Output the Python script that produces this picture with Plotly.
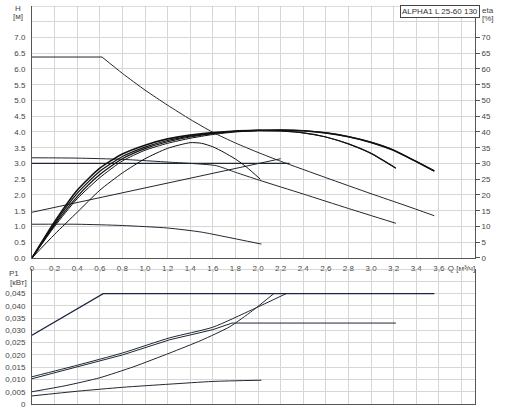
import plotly.graph_objects as go

# ---------------- data (Q in m3/h) ----------------
# Q-H curves, H in m
q_max_flat = [0, 0.62]
h_max_flat = [6.38, 6.38]
q_max = [0.62, 0.8, 1.0, 1.2, 1.4, 1.6, 1.8, 2.0, 2.2, 2.6, 3.0, 3.3, 3.56]
h_max = [6.38, 5.86, 5.33, 4.85, 4.4, 3.99, 3.65, 3.35, 3.07, 2.55, 2.04, 1.67, 1.34]

q_speed = [0, 0.4, 0.8, 1.22, 1.45, 1.63, 1.8, 2.01, 2.4, 2.8, 3.22]
h_speed = [3.18, 3.17, 3.13, 3.04, 2.99, 2.93, 2.72, 2.47, 2.03, 1.57, 1.1]

q_cp = [0, 2.28]
h_cp = [3.0, 3.0]

q_pp = [0, 2.2]
h_pp = [1.45, 3.15]

q_low = [0, 0.4, 0.8, 1.2, 1.5, 1.7, 2.03]
h_low = [1.07, 1.07, 1.03, 0.95, 0.82, 0.68, 0.44]

# efficiency curves, eta in %
q_eta1 = [0, 0.2, 0.4, 0.6, 0.8, 1.0, 1.2, 1.4, 1.5, 1.6, 1.7, 1.8, 1.9, 2.02]
eta1 = [0, 7.5, 14.5, 21.5, 27, 31.5, 34.8, 36.6, 36.4, 35.3, 33.5, 31.4, 28.8, 25]

q_eta_long = [0, 0.2, 0.4, 0.6, 0.8, 1.0, 1.2, 1.4, 1.6, 1.8, 2.0, 2.2, 2.4, 2.6, 2.8, 3.0, 3.2, 3.4, 3.56]
eta2 = [0, 11.5, 21.5, 28.5, 33, 35.8, 37.8, 39, 39.8, 40.3, 40.5, 40.6, 40.4, 39.7, 38.5, 36.7, 34.2, 30.6, 27.6]
eta3 = [0, 11, 20.5, 27.5, 32.2, 35.2, 37.3, 38.7, 39.6, 40.2, 40.5, 40.6, 40.4, 39.7, 38.5, 36.7, 34.2, 30.6, 27.6]

q_eta_short = [0, 0.2, 0.4, 0.6, 0.8, 1.0, 1.2, 1.4, 1.6, 1.8, 2.0, 2.2, 2.4, 2.6, 2.8, 3.0, 3.22]
eta4 = [0, 10.5, 19.5, 26.5, 31.5, 34.7, 36.9, 38.4, 39.5, 40.2, 40.5, 40.3, 39.7, 38.4, 36.2, 33.2, 28.5]
eta5 = [0, 10, 18.8, 25.5, 30.8, 34.2, 36.4, 38, 39.2, 40, 40.4, 40.3, 39.7, 38.4, 36.2, 33.2, 28.5]

# power curves, P1 in kW
q_p_max = [0, 0.63, 3.56]
p_max = [0.028, 0.045, 0.045]

q_p_up = [0, 0.4, 0.8, 1.22, 1.6, 1.95, 2.25]
p_up = [0.0111, 0.0158, 0.0208, 0.027, 0.0313, 0.0385, 0.045]

q_p_mid = [0, 0.4, 0.8, 1.22, 1.6, 1.77, 3.22]
p_mid = [0.0103, 0.015, 0.02, 0.0262, 0.0303, 0.033, 0.033]

q_p_steep = [0, 0.3, 0.6, 0.9, 1.22, 1.5, 1.75, 1.95, 2.14]
p_steep = [0.005, 0.0075, 0.0107, 0.0152, 0.0208, 0.026, 0.0315, 0.038, 0.045]

q_p_low = [0, 0.4, 0.8, 1.22, 1.6, 2.03]
p_low = [0.0033, 0.0052, 0.0068, 0.0081, 0.0092, 0.0097]

# axis ticks
q_tickvals = [round(0.2 * i, 1) for i in range(20)]
q_ticktext = [("0" if v == 0 else f"{v:.1f}".replace(".", ",")) for v in q_tickvals[:19]] + ["Q [м³/ч]"]
h_tickvals = [0.5 * i for i in range(16)]
h_ticktext = [f"{v:.1f}" for v in h_tickvals[:15]] + [""]
eta_tickvals = list(range(0, 75, 5))
p_tickvals = [0.005 * i for i in range(11)]
p_ticktext = ["0"] + [f"{v:.3f}".replace(".", ",") for v in p_tickvals[1:10]] + [""]

title_text = "ALPHA1 L 25-60 130"

# ---------------- figure ----------------
LINE = "#1f2733"
THICK = "#111111"
GRID = "#d6d6d6"
AX = "#555555"
FONT = dict(family="Liberation Sans, Arial, sans-serif", size=8, color="#444444")

fig = go.Figure()

def add(x, y, yaxis, xaxis="x", width=1.0, color=LINE, shape="linear"):
    fig.add_trace(go.Scatter(x=x, y=y, mode="lines", xaxis=xaxis, yaxis=yaxis,
                             line=dict(color=color, width=width, shape=shape, smoothing=0.6),
                             hoverinfo="skip", showlegend=False))

add(q_max_flat, h_max_flat, "y", width=1.0)
add(q_max, h_max, "y", width=1.0, shape="spline")
add(q_speed, h_speed, "y", width=1.0, shape="spline")
add(q_cp, h_cp, "y", width=1.2)
add(q_pp, h_pp, "y", width=1.0)
add(q_low, h_low, "y", width=1.0, shape="spline")

add(q_eta1, eta1, "y3", width=1.0, color=THICK, shape="spline")
add(q_eta_long, eta2, "y3", width=1.6, color=THICK, shape="spline")
add(q_eta_long, eta3, "y3", width=1.2, color=THICK, shape="spline")
add(q_eta_short, eta4, "y3", width=1.2, color=THICK, shape="spline")
add(q_eta_short, eta5, "y3", width=1.0, color=THICK, shape="spline")

add(q_p_max, p_max, "y2", "x2", width=1.2, color="#1b2540")
add(q_p_up, p_up, "y2", "x2", width=1.0, shape="spline")
add(q_p_mid, p_mid, "y2", "x2", width=1.0, shape="linear")
add(q_p_steep, p_steep, "y2", "x2", width=1.0, shape="spline")
add(q_p_low, p_low, "y2", "x2", width=1.0, shape="spline")

XR = [0, 3.92]
TOP_DOM = [0.367, 1.0]
BOT_DOM = [0.0, 0.339]

fig.update_layout(
    width=508, height=411,
    margin=dict(l=32, r=33, t=6, b=7),
    paper_bgcolor="white", plot_bgcolor="white",
    font=FONT,
    showlegend=False,
    xaxis=dict(domain=[0, 1], range=XR, anchor="y", tickvals=q_tickvals, ticktext=q_ticktext,
               showgrid=True, gridcolor=GRID, gridwidth=1, zeroline=False,
               showline=True, linecolor=AX, linewidth=1, ticks="", ticklabelstandoff=2,
               tickfont=FONT, automargin=False, fixedrange=True),
    yaxis=dict(domain=TOP_DOM, range=[0, 8], anchor="x", tickvals=h_tickvals, ticktext=h_ticktext,
               showgrid=True, gridcolor=GRID, gridwidth=1, zeroline=False,
               showline=True, linecolor=AX, linewidth=1, ticks="", ticklabelstandoff=4,
               tickfont=FONT, automargin=False),
    yaxis3=dict(overlaying="y", side="right", anchor="x", range=[0, 80], tickvals=eta_tickvals,
                ticktext=[str(v) for v in eta_tickvals], showgrid=False, zeroline=False,
                showline=True, linecolor=AX, linewidth=1, ticks="outside", ticklen=4,
                tickcolor=AX, tickfont=FONT, automargin=False),
    xaxis2=dict(domain=[0, 1], range=XR, anchor="y2", matches="x", tickvals=q_tickvals,
                showticklabels=False, showgrid=True, gridcolor=GRID, gridwidth=1, zeroline=False,
                showline=True, linecolor=AX, linewidth=1, ticks="", automargin=False),
    yaxis2=dict(domain=BOT_DOM, range=[0, 0.055], anchor="x2", tickvals=p_tickvals, ticktext=p_ticktext,
                showgrid=True, gridcolor=GRID, gridwidth=1, zeroline=False,
                showline=True, mirror=True, linecolor=AX, linewidth=1, ticks="", ticklabelstandoff=4,
                tickfont=FONT, automargin=False),
)

# top borders (light)
fig.add_shape(type="line", xref="x", yref="y", x0=0, x1=XR[1], y0=8, y1=8,
              line=dict(color="#bbbbbb", width=1))
fig.add_shape(type="line", xref="x2", yref="y2", x0=0, x1=XR[1], y0=0.055, y1=0.055,
              line=dict(color="#bbbbbb", width=1))

def px_x(px):
    return (px - 32) / 443.0

def px_y(py):
    return (404 - py) / 398.0

def label(text, x, y, xa="center"):
    fig.add_annotation(text=text, xref="paper", yref="paper", x=px_x(x), y=px_y(y),
                       showarrow=False, xanchor=xa, yanchor="middle", font=FONT)

label("H", 18, 8)
label("[м]", 18, 17)
label("eta", 488, 10)
label("[%]", 488, 18)
label("P1", 14, 273)
label("[кВт]", 18, 282)

fig.add_annotation(text=title_text, xref="paper", yref="paper", x=px_x(440), y=px_y(12),
                   showarrow=False, xanchor="center", yanchor="middle",
                   font=dict(family=FONT["family"], size=8, color="#333333"),
                   bordercolor="#444444", borderwidth=1, borderpad=1, bgcolor="white")

fig.write_html("out.html", config={"displayModeBar": False, "staticPlot": True},
               post_script="document.body.style.margin='0';document.body.style.padding='0';")
